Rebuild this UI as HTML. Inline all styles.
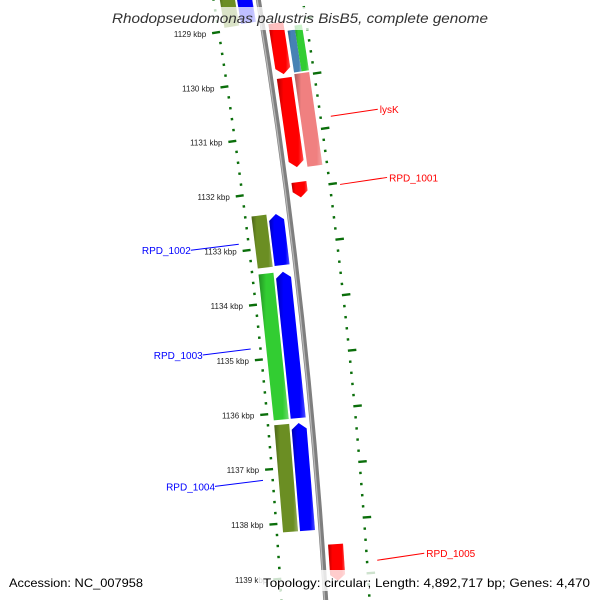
<!DOCTYPE html>
<html><head><meta charset="utf-8"><style>
html,body{margin:0;padding:0;background:#fff;}
svg{display:block;font-family:"Liberation Sans",sans-serif;}
</style></head><body>
<svg id="map" width="600" height="600" viewBox="0 0 600 600" xmlns="http://www.w3.org/2000/svg">
<defs>
<linearGradient id="shade" x1="0" y1="0" x2="1" y2="0">
<stop offset="0" stop-color="#000" stop-opacity="0.3"/>
<stop offset="0.25" stop-color="#000" stop-opacity="0"/>
<stop offset="0.8" stop-color="#fff" stop-opacity="0"/>
<stop offset="1" stop-color="#fff" stop-opacity="0.3"/>
</linearGradient>
</defs>
<g id="backbone-g"></g>
<g id="rings"></g>
<g id="genes"></g>
<g id="labels"></g>
<rect x="108" y="7" width="384" height="23" fill="#fff" fill-opacity="0.75"/>
<text x="300" y="23" text-anchor="middle" font-size="14" font-style="italic" fill="#333" textLength="376" lengthAdjust="spacingAndGlyphs">Rhodopseudomonas palustris BisB5, complete genome</text>
<rect x="5" y="570" width="143" height="21" fill="#fff" fill-opacity="0.8"/>
<rect x="258" y="570" width="337" height="21" fill="#fff" fill-opacity="0.8"/>
<text x="9" y="587" font-size="12" fill="#000" textLength="134" lengthAdjust="spacingAndGlyphs">Accession: NC_007958</text>
<text x="263" y="587" font-size="12" fill="#000" textLength="327" lengthAdjust="spacingAndGlyphs">Topology: circular; Length: 4,892,717 bp; Genes: 4,470</text>
</svg>
<script>
// ---- data ----
const geneStart  = [1129.0, 1129.17, 1129.1, 1130.0, 1129.96, 1131.89, 1138.44, 1128.2, 1128.2, 1132.40, 1132.41, 1133.46, 1133.46, 1136.21, 1136.21];
const geneEnd    = [1129.93, 1129.93, 1129.93, 1131.62, 1131.64, 1132.17, 1139.1, 1128.94, 1128.92, 1133.35, 1133.34, 1136.12, 1136.12, 1138.16, 1138.16];
const geneStrand = [1, 1, 1, 1, 1, 1, 1, -1, -1, -1, -1, -1, -1, -1, -1];
const geneLane   = ["f1", "f2a", "f2b", "f1", "f2", "f1", "f1", "r2", "r1", "r2", "r1", "r2", "r1", "r2", "r1"];
const geneType   = ["cds", "rrna", "gene", "cds", "trna", "cds", "cds", "orf", "cdsr", "orf", "cdsr", "gene", "cdsr", "orf", "cdsr"];
const labelText  = ["lysK", "RPD_1001", "RPD_1002", "RPD_1003", "RPD_1004", "RPD_1005"];
const labelK     = [1130.8, 1132.03, 1132.87, 1134.79, 1137.19, 1138.78];
const labelSide  = [1, 1, -1, -1, -1, 1];
const tickKbp    = [1129, 1130, 1131, 1132, 1133, 1134, 1135, 1136, 1137, 1138, 1139];

// ---- axis / geometry ----
const CX = -5663, CY = 968, PHI0 = -0.1578, DPHI = 0.009243;
function P(k, r){ const a = PHI0 + (k - 1129) * DPHI; return [CX + r * Math.cos(a), CY + r * Math.sin(a)]; }
const laneR = {f1:[6006,6021], f2:[6024,6039], f2a:[6024,6031.5], f2b:[6031.5,6039], r1:[5979,5994], r2:[5962,5977]};
const typeColor = {cds:"#ff0000", rrna:"#4682b4", gene:"#32cd32", trna:"#f08080", orf:"#6b8e23", cdsr:"#0000ff"};
const arrowTypes = {cds:true, cdsr:true};
const NS = "http://www.w3.org/2000/svg";
function mk(tag, attrs, parent){ const e = document.createElementNS(NS, tag); for (const k in attrs) e.setAttribute(k, attrs[k]); parent.appendChild(e); return e; }
const f = p => p[0].toFixed(2) + "," + p[1].toFixed(2);

// backbone
const bb = document.getElementById("backbone-g");
const b0 = P(1128.2, 6000), b1 = P(1139.8, 6000);
const bpath = mk("path", {d:"M"+f(b0)+" A6000 6000 0 0 1 "+f(b1), fill:"none", stroke:"#7f7f7f", "stroke-width":"5"}, bb);


const bh0 = P(1128.2, 5998.8), bh1 = P(1139.8, 5998.8);
const bhl = mk("path", {d:"M"+f(bh0)+" A5998.8 5998.8 0 0 1 "+f(bh1), fill:"none", stroke:"#b8b8b8", "stroke-width":"1.3"}, bb);



// rings
const rings = document.getElementById("rings");
for (let i = 5642; i <= 5699; i++) {
  const k = i / 5;
  const major = (i % 5 === 0);
  // left ring (inner): dot at 5956, ticks extend inward
  const lA = P(k, major ? 5949 : 5954.5), lB = P(k, 5957);
  const lt = mk("line", {x1:lA[0], y1:lA[1], x2:lB[0], y2:lB[1], stroke:"#0a6e0a", "stroke-width":"2.4"}, rings);
  
  
  const rA = P(k, 6042.5), rB = P(k, major ? 6051 : 6045);
  const rt = mk("line", {x1:rA[0], y1:rA[1], x2:rB[0], y2:rB[1], stroke:"#0a6e0a", "stroke-width":"2.4"}, rings);
  
  
}
tickKbp.forEach(k => {
  const p = P(k, 5943);
  const t = mk("text", {x:p[0].toFixed(1), y:(p[1]+3).toFixed(1), "text-anchor":"end", "font-size":"8", fill:"#222"}, rings);
  t.textContent = k + " kbp";
  
  
});

// genes
const genes = document.getElementById("genes");
const HEAD = 0.11;
geneStart.forEach((s, i) => {
  const e = geneEnd[i], lr = laneR[geneLane[i]], r0 = lr[0], r1 = lr[1], rm = (r0 + r1) / 2;
  let pts;
  if (arrowTypes[geneType[i]] && geneStrand[i] === 1) {
    const hs = Math.max(s, e - HEAD);
    pts = [P(s, r0), P(s, r1), P(hs, r1), P(e, rm), P(hs, r0)];
  } else if (arrowTypes[geneType[i]] && geneStrand[i] === -1) {
    const hs = Math.min(e, s + HEAD);
    pts = [P(s, rm), P(hs, r1), P(e, r1), P(e, r0), P(hs, r0)];
  } else {
    pts = [P(s, r0), P(s, r1), P(e, r1), P(e, r0)];
  }
  const ptsStr = pts.map(f).join(" ");
  const g = mk("polygon", {points:ptsStr, fill:typeColor[geneType[i]]}, genes);
  
  
  const sh = mk("polygon", {points:ptsStr, fill:"url(#shade)"}, genes);
  
  
});

// labels
const labels = document.getElementById("labels");
labelText.forEach((txt, i) => {
  const side = labelSide[i];
  const a = P(labelK[i], side === 1 ? 6054 : 5946);
  const end = side === 1 ? [a[0] + 47, a[1] - 7] : [a[0] - 48, a[1] + 6];
  const col = side === 1 ? "#ff0000" : "#0000ff";
  const ln = mk("line", {x1:a[0], y1:a[1], x2:end[0], y2:end[1], stroke:col, "stroke-width":"1"}, labels);
  
  
  const t = mk("text", {x:(end[0] + (side === 1 ? 2 : 0)).toFixed(1), y:(end[1] + 4).toFixed(1), "text-anchor":side === 1 ? "start" : "end", "font-size":"10", fill:col}, labels);
  t.textContent = txt;
  
  
});
</script>
</body></html>
